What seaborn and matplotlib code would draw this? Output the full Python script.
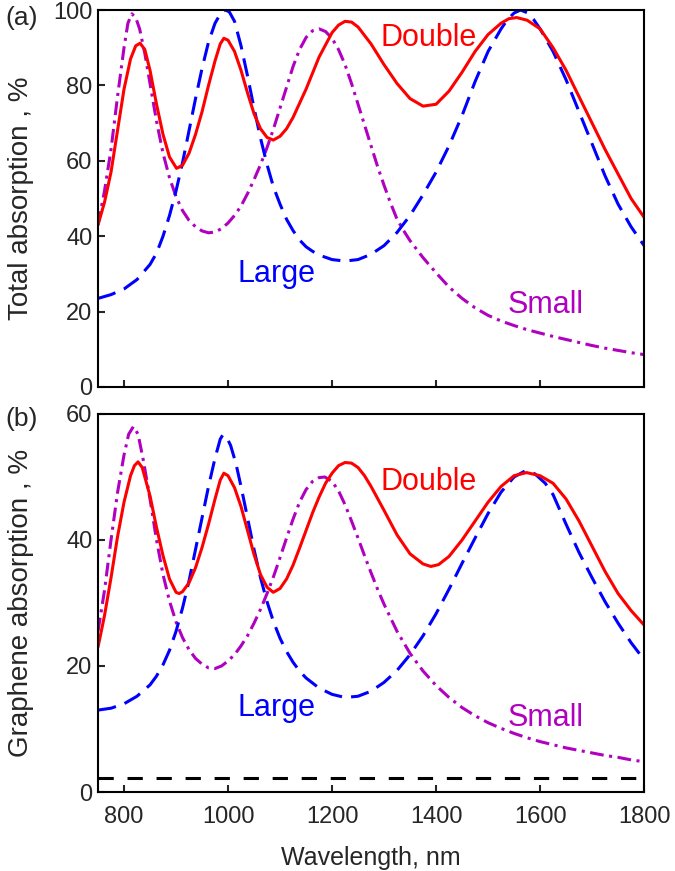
import matplotlib
matplotlib.use("Agg")
import matplotlib.pyplot as plt
import seaborn as sns

# ---- data (wavelength in nm, absorption in %) ----
# panel (a): total absorption
a_small_wl = [750, 762.5, 775, 787.5, 800, 807.5, 815, 822.5, 830, 840, 850, 862.5, 875, 887.5,
              900, 912.5, 925, 937.5, 950, 962.5, 975, 987.5, 1000, 1012.5, 1025, 1037.5, 1050,
              1062.5, 1075, 1087.5, 1100, 1112.5, 1125, 1137.5, 1150, 1162.5, 1175, 1187.5,
              1200, 1212.5, 1225, 1237.5, 1250, 1262.5, 1275, 1287.5, 1300, 1312.5, 1325,
              1337.5, 1350, 1375, 1400, 1425, 1450, 1475, 1500, 1525, 1550, 1575, 1600, 1625,
              1650, 1675, 1700, 1725, 1750, 1775, 1800]
a_small = [43, 52, 63, 77, 90, 96.5, 99, 98, 95, 88.5, 80.5, 70.5, 62, 55.5,
           50.5, 46.8, 44.2, 42.5, 41.4, 40.9, 41.1, 42, 43.5, 45.5, 48, 51.3, 55,
           59, 63.5, 68.5, 74, 79.5, 85, 89.5, 92.7, 94.5, 95, 94.3,
           92.5, 89.5, 85.5, 80.5, 75, 69.5, 64, 58.5, 53.5, 48.8, 44.5,
           41.5, 38.8, 34.3, 30.3, 26.5, 23.5, 21, 19, 17.5, 16.3, 15.2, 14.3, 13.4,
           12.6, 11.8, 11, 10.3, 9.7, 9.1, 8.6]

a_large_wl = [750, 775, 800, 825, 850, 862.5, 875, 887.5, 900, 912.5, 925, 937.5, 950, 962.5,
              975, 987.5, 995, 1002.5, 1012.5, 1025, 1037.5, 1050, 1062.5, 1075, 1087.5, 1100,
              1112.5, 1125, 1137.5, 1150, 1162.5, 1175, 1200, 1225, 1250, 1275, 1300, 1325,
              1350, 1375, 1400, 1425, 1450, 1475, 1500, 1525, 1537.5, 1550, 1562.5, 1575,
              1587.5, 1600, 1625, 1650, 1675, 1700, 1725, 1750, 1775, 1800]
a_large = [23.5, 24.5, 26, 28.5, 32.5, 35.5, 40, 45.5, 52, 59.5, 68, 76.5, 84.5, 91.5,
           96.5, 99.5, 100, 99.5, 97, 90.5, 82.5, 74, 66, 59, 53, 48.5,
           44.5, 41.5, 39, 37.2, 36, 35, 33.8, 33.4, 33.8, 35.2, 37.5, 41,
           45.5, 51, 57, 64, 72, 81, 89, 95, 97.5, 99.2, 100, 99.3,
           97.5, 95, 89, 81.5, 73, 64.5, 56, 48.5, 42.5, 37.5]

a_double_wl = [750, 762.5, 775, 787.5, 800, 812.5, 822.5, 831, 840, 850, 862.5, 875, 887.5, 901,
               912.5, 925, 937.5, 950, 962.5, 975, 985, 992, 1000, 1012.5, 1025, 1037.5, 1050,
               1062.5, 1075, 1087, 1100, 1112.5, 1125, 1150, 1175, 1200, 1212.5, 1225, 1237.5,
               1250, 1275, 1300, 1325, 1350, 1375, 1400, 1425, 1450, 1475, 1500, 1525, 1540,
               1555, 1575, 1600, 1625, 1650, 1675, 1700, 1725, 1750, 1775, 1800]
a_double = [43, 49, 57, 68, 79, 87, 90.5, 91.2, 89.5, 84, 75, 67, 61, 58,
            58.8, 62, 67, 73, 80, 86.5, 91, 92.5, 92, 89, 84, 78, 72.5,
            68.5, 66.2, 65.5, 66.5, 68.5, 71.5, 79, 87.5, 94, 96, 97, 96.8,
            95.5, 91, 85.5, 80.5, 76.5, 74.5, 75, 78.5, 83.5, 89, 93.5, 96.5, 97.7,
            98, 97.3, 95, 90, 84, 77, 70, 63, 56.5, 50, 45]

# panel (b): graphene absorption
b_small_wl = [750, 762.5, 775, 787.5, 800, 809, 818, 827, 837.5, 850, 862.5, 875, 887.5, 900,
              912.5, 925, 937.5, 950, 962.5, 975, 987.5, 1000, 1012.5, 1025, 1037.5, 1050,
              1062.5, 1075, 1087.5, 1100, 1112.5, 1125, 1137.5, 1150, 1162.5, 1175, 1186,
              1200, 1212.5, 1225, 1237.5, 1250, 1262.5, 1275, 1287.5, 1300, 1325, 1350, 1375,
              1400, 1425, 1450, 1475, 1500, 1525, 1550, 1575, 1600, 1625, 1650, 1675, 1700,
              1725, 1750, 1775, 1800]
b_small = [25.5, 32, 40, 47.5, 53.5, 56.8, 58, 56.8, 52.5, 46.5, 40, 34.5, 30.3, 27,
           24.5, 22.6, 21.2, 20.3, 19.7, 19.6, 20, 20.8, 21.8, 23.2, 24.8, 26.8,
           29, 31.5, 34.2, 37.2, 40.3, 43.3, 46, 48, 49.3, 49.9, 50,
           49.3, 47.8, 45.6, 43, 40.3, 37.5, 34.8, 32.2, 29.8, 25.5, 22, 19.2,
           16.9, 15, 13.4, 12.1, 11, 10.1, 9.3, 8.6, 8, 7.5, 7, 6.6, 6.2,
           5.8, 5.5, 5.1, 4.8]

b_large_wl = [750, 775, 800, 825, 850, 862.5, 875, 887.5, 900, 912.5, 925, 937.5, 950, 962.5,
              975, 985, 990, 997.5, 1005, 1015, 1025, 1037.5, 1050, 1062.5, 1075, 1087.5, 1100,
              1112.5, 1125, 1137.5, 1150, 1175, 1200, 1225, 1250, 1275, 1300, 1325, 1350, 1375,
              1400, 1425, 1450, 1475, 1500, 1525, 1550, 1572, 1590, 1610, 1625, 1650, 1675,
              1700, 1725, 1750, 1775, 1800]
b_large = [13, 13.3, 14, 15.2, 17, 18.4, 20.2, 22.5, 25.5, 29.2, 33.5, 38.5, 43.5, 48.5,
           53, 56, 56.7, 56.3, 55, 52.2, 48.5, 43.5, 38.5, 34, 30.2, 27, 24.4,
           22.3, 20.6, 19.2, 18.1, 16.5, 15.5, 15, 15.2, 16, 17.4, 19.3, 21.8, 24.8,
           28.3, 32.2, 36.3, 40.3, 44.2, 47.6, 50, 51, 50.5, 49, 47.2, 42.5, 38,
           34, 30.2, 26.8, 23.7, 21]

b_double_wl = [750, 762.5, 775, 787.5, 800, 812.5, 820, 827, 835, 850, 862.5, 875, 887.5, 900,
               906, 912.5, 925, 937.5, 950, 962.5, 975, 985, 992, 1000, 1012.5, 1025, 1037.5,
               1050, 1062.5, 1075, 1087, 1100, 1112.5, 1125, 1137.5, 1150, 1162.5, 1175, 1187.5,
               1200, 1212.5, 1225, 1237.5, 1250, 1262.5, 1275, 1300, 1325, 1350, 1375, 1390,
               1405, 1425, 1450, 1475, 1500, 1525, 1550, 1574, 1600, 1625, 1650, 1675, 1700,
               1725, 1750, 1775, 1800]
b_double = [23, 28, 34, 40.5, 46, 50.2, 51.8, 52.4, 51.5, 47, 42, 37.5, 33.8, 31.7,
            31.5, 31.8, 33.2, 35.6, 38.8, 42.5, 46.5, 49.5, 50.6, 50.2, 48.3, 45.3, 41.5,
            37.7, 34.5, 32.5, 31.7, 32.3, 33.8, 36, 38.7, 41.5, 44.3, 46.8, 49,
            50.6, 51.8, 52.3, 52.2, 51.5, 50.2, 48.5, 44.7, 40.8, 37.8, 36.2, 35.8,
            36.1, 37.4, 40, 43, 46, 48.5, 50.2, 50.7, 50.2, 49, 46.5, 43, 39,
            35, 31.5, 28.8, 26.5]

graphene_wl = [750, 1800]
graphene = [2.3, 2.3]

RED = "#ff0000"
BLUE = "#0000ff"
MAGENTA = "#b000c0"

sns.set_style("ticks")
plt.rcParams["font.family"] = ["Liberation Sans", "DejaVu Sans"]

fig = plt.figure(figsize=(6.75, 8.71), dpi=100)
ax_a = fig.add_axes([0.1452, 0.5557, 0.809, 0.4328])
ax_b = fig.add_axes([0.1452, 0.0907, 0.809, 0.434])


def curve(ax, wl, vals, color, ls):
    sns.lineplot(x=wl, y=vals, ax=ax, color=color, linestyle=ls, lw=2.2,
                 estimator=None, sort=False)


dash = (0, (6, 3))
dashdot = (0, (4.5, 1.8, 1.0, 1.8))

curve(ax_a, a_small_wl, a_small, MAGENTA, dashdot)
curve(ax_a, a_large_wl, a_large, BLUE, dash)
curve(ax_a, a_double_wl, a_double, RED, "-")

curve(ax_b, graphene_wl, graphene, "black", (0, (5, 4.5)))
curve(ax_b, b_small_wl, b_small, MAGENTA, dashdot)
curve(ax_b, b_large_wl, b_large, BLUE, dash)
curve(ax_b, b_double_wl, b_double, RED, "-")

for ax in (ax_a, ax_b):
    ax.set_xlim(750, 1800)
    ax.set_xticks(range(800, 1801, 200))
    ax.tick_params(direction="in", length=5, width=1.5, labelsize=17,
                   top=False, right=False)
    ax.tick_params(axis="x", pad=10)
    ax.tick_params(axis="y", pad=4)
    for sp in ax.spines.values():
        sp.set_visible(True)
        sp.set_linewidth(1.5)
        sp.set_color("black")

ax_a.set_ylim(0, 100)
ax_a.set_yticks(range(0, 101, 20))
ax_a.tick_params(axis="x", labelbottom=False)
ax_b.set_ylim(0, 60)
ax_b.set_yticks(range(0, 61, 20))

ax_a.set_ylabel("Total absorption , %", fontsize=20)
ax_b.set_ylabel("Graphene absorption , %", fontsize=20)
ax_a.yaxis.set_label_coords(-0.117, 0.5)
ax_b.yaxis.set_label_coords(-0.117, 0.5)
ax_b.set_xlabel("Wavelength, nm", fontsize=18, labelpad=13)

ax_a.text(1385, 92.6, "Double", color=RED, fontsize=22, ha="center", va="center")
ax_a.text(1094, 30, "Large", color=BLUE, fontsize=22, ha="center", va="center")
ax_a.text(1610, 21.7, "Small", color=MAGENTA, fontsize=22, ha="center", va="center")
ax_b.text(1385, 49.2, "Double", color=RED, fontsize=22, ha="center", va="center")
ax_b.text(1094, 13.3, "Large", color=BLUE, fontsize=22, ha="center", va="center")
ax_b.text(1610, 11.8, "Small", color=MAGENTA, fontsize=22, ha="center", va="center")

fig.text(5 / 675, 1 - 18 / 871, "(a)", fontsize=19, ha="left", va="center")
fig.text(5 / 675, 1 - 419 / 871, "(b)", fontsize=19, ha="left", va="center")

fig.savefig("out.png", dpi=100)
